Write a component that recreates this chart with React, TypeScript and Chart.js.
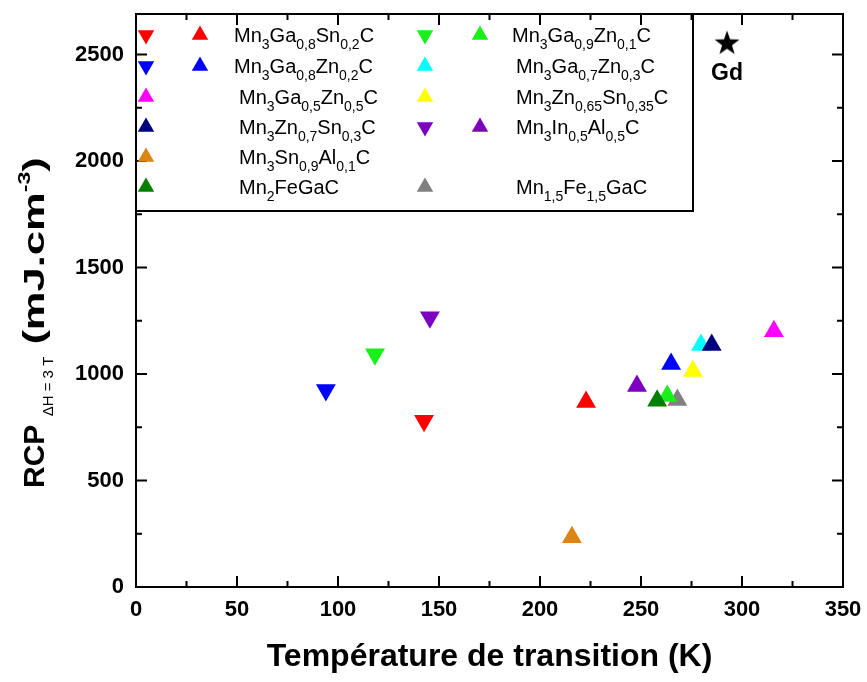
import React, { useEffect, useRef } from "react";
import { Chart, registerables } from "chart.js";

Chart.register(...registerables);

// ---------- axis ticks ----------
const xTickValues = [0, 50, 100, 150, 200, 250, 300, 350];
const yTickValues = [0, 500, 1000, 1500, 2000, 2500];
const xMinorStep = 25;
const yMinorStep = 250;
const xMin = 0;
const xMax = 350;
const yMin = 0;
const yMax = 2690;

// ---------- series labels ----------
const labelMn3Ga08Sn02C = "Mn_{3}Ga_{0,8}Sn_{0,2}C";
const labelMn3Ga08Zn02C = "Mn_{3}Ga_{0,8}Zn_{0,2}C";
const labelMn3Ga05Zn05C = "Mn_{3}Ga_{0,5}Zn_{0,5}C";
const labelMn3Zn07Sn03C = "Mn_{3}Zn_{0,7}Sn_{0,3}C";
const labelMn3Sn09Al01C = "Mn_{3}Sn_{0,9}Al_{0,1}C";
const labelMn2FeGaC = "Mn_{2}FeGaC";
const labelMn3Ga09Zn01C = "Mn_{3}Ga_{0,9}Zn_{0,1}C";
const labelMn3Ga07Zn03C = "Mn_{3}Ga_{0,7}Zn_{0,3}C";
const labelMn3Zn065Sn035C = "Mn_{3}Zn_{0,65}Sn_{0,35}C";
const labelMn3In05Al05C = "Mn_{3}In_{0,5}Al_{0,5}C";
const labelMn15Fe15GaC = "Mn_{1,5}Fe_{1,5}GaC";

// ---------- data (x = transition temperature K, y = RCP mJ.cm-3) ----------
const mn3Ga08Sn02C_down = [{ x: 142.6, y: 780 }];
const mn3Ga08Sn02C_up = [{ x: 222.8, y: 869 }];
const mn3Ga08Zn02C_down = [{ x: 94, y: 925 }];
const mn3Ga08Zn02C_up = [{ x: 264.9, y: 1047 }];
const mn3Ga05Zn05C_up = [{ x: 315.8, y: 1201 }];
const mn3Zn07Sn03C_up = [{ x: 285, y: 1136 }];
const mn3Sn09Al01C_up = [{ x: 215.8, y: 234 }];
const mn2FeGaC_up = [{ x: 258, y: 874 }];
const mn3Ga09Zn01C_down = [{ x: 118.3, y: 1093 }];
const mn3Ga09Zn01C_up = [{ x: 263, y: 897 }];
const mn3Ga07Zn03C_up = [{ x: 279.7, y: 1136 }];
const mn3Zn065Sn035C_up = [{ x: 275.7, y: 1014 }];
const mn3In05Al05C_down = [{ x: 145.5, y: 1266 }];
const mn3In05Al05C_up = [{ x: 248, y: 944 }];
const mn15Fe15GaC_up = [{ x: 268, y: 878 }];
const gdPoint = [{ x: 292.6, y: 2556 }];
const gdLabel = "Gd";

// ---------- titles ----------
const xTitle = "Température de transition (K)";
const yTitleMain = "RCP";
const yTitleSub = "\u0394H = 3 T";
const yTitleUnit = "(mJ.cm";
const yTitleSup = "-3";
const yTitleClose = ")";

// ---------- colours ----------
const RED = "#ff0000";
const BLUE = "#0000ff";
const MAGENTA = "#ff00ff";
const NAVY = "#00007f";
const ORANGE = "#dc8512";
const DKGREEN = "#007f00";
const LIME = "#19f019";
const CYAN = "#00ffff";
const YELLOW = "#ffff00";
const PURPLE = "#7b00c0";
const GRAY = "#808080";

// series definitions: label, colour, down data, up data, legend slot
const series = [
  { label: labelMn3Ga08Sn02C, color: RED, down: mn3Ga08Sn02C_down, up: mn3Ga08Sn02C_up, col: 0, row: 0 },
  { label: labelMn3Ga08Zn02C, color: BLUE, down: mn3Ga08Zn02C_down, up: mn3Ga08Zn02C_up, col: 0, row: 1 },
  { label: labelMn3Ga05Zn05C, color: MAGENTA, down: null, up: mn3Ga05Zn05C_up, col: 0, row: 2 },
  { label: labelMn3Zn07Sn03C, color: NAVY, down: null, up: mn3Zn07Sn03C_up, col: 0, row: 3 },
  { label: labelMn3Sn09Al01C, color: ORANGE, down: null, up: mn3Sn09Al01C_up, col: 0, row: 4 },
  { label: labelMn2FeGaC, color: DKGREEN, down: null, up: mn2FeGaC_up, col: 0, row: 5 },
  { label: labelMn3Ga09Zn01C, color: LIME, down: mn3Ga09Zn01C_down, up: mn3Ga09Zn01C_up, col: 1, row: 0 },
  { label: labelMn3Ga07Zn03C, color: CYAN, down: null, up: mn3Ga07Zn03C_up, col: 1, row: 1 },
  { label: labelMn3Zn065Sn035C, color: YELLOW, down: null, up: mn3Zn065Sn035C_up, col: 1, row: 2 },
  { label: labelMn3In05Al05C, color: PURPLE, down: mn3In05Al05C_down, up: mn3In05Al05C_up, col: 1, row: 3 },
  { label: labelMn15Fe15GaC, color: GRAY, down: null, up: mn15Fe15GaC_up, col: 1, row: 5 },
];

const FONT = '"Liberation Sans", Arial, Helvetica, sans-serif';

type Run = { text: string; font: string; dy: number; sx?: number };

function richRuns(s: string, size: number, subSize: number, subDy: number): Run[] {
  const runs: Run[] = [];
  const re = /_\{([^}]*)\}|([^_]+)/g;
  let m: RegExpExecArray | null;
  while ((m = re.exec(s))) {
    if (m[1] !== undefined) runs.push({ text: m[1], font: `${subSize}px ${FONT}`, dy: subDy });
    else runs.push({ text: m[2], font: `${size}px ${FONT}`, dy: 0 });
  }
  return runs;
}

function drawRuns(ctx: CanvasRenderingContext2D, runs: Run[], x: number, y: number) {
  let cx = x;
  ctx.textAlign = "left";
  ctx.textBaseline = "alphabetic";
  for (const r of runs) {
    ctx.font = r.font;
    const sx = r.sx ?? 1;
    ctx.save();
    ctx.translate(cx, y + r.dy);
    ctx.scale(sx, 1);
    ctx.fillText(r.text, 0, 0);
    ctx.restore();
    cx += ctx.measureText(r.text).width * sx;
  }
  return cx - x;
}

function triangle(ctx: CanvasRenderingContext2D, x: number, y: number, r: number, down: boolean, color: string) {
  ctx.save();
  ctx.translate(x, y);
  if (down) ctx.rotate(Math.PI);
  ctx.beginPath();
  for (let i = 0; i < 3; i++) {
    const a = (i * 2 * Math.PI) / 3;
    const px = Math.sin(a) * r;
    const py = -Math.cos(a) * r;
    if (i === 0) ctx.moveTo(px, py);
    else ctx.lineTo(px, py);
  }
  ctx.closePath();
  ctx.fillStyle = color;
  ctx.fill();
  ctx.restore();
}

function makeStar(size: number): HTMLCanvasElement {
  const c = document.createElement("canvas");
  c.width = size;
  c.height = size;
  const g = c.getContext("2d")!;
  const cx = size / 2;
  const cy = size / 2 + size * 0.04;
  const R = size / 2;
  const r = R * 0.4;
  g.beginPath();
  for (let i = 0; i < 10; i++) {
    const rad = i % 2 === 0 ? R : r;
    const a = (i * Math.PI) / 5;
    const px = cx + Math.sin(a) * rad;
    const py = cy - Math.cos(a) * rad;
    if (i === 0) g.moveTo(px, py);
    else g.lineTo(px, py);
  }
  g.closePath();
  g.fillStyle = "#000";
  g.fill();
  return c;
}

const framePlugin = {
  id: "frameAndDecor",
  afterDatasetsDraw(chart: any) {
    const ctx: CanvasRenderingContext2D = chart.ctx;
    const { left, right, top, bottom } = chart.chartArea;
    const xs = chart.scales.x;
    const ys = chart.scales.y;
    ctx.save();
    ctx.strokeStyle = "#000";
    ctx.lineWidth = 2;
    ctx.lineCap = "butt";
    // frame
    ctx.strokeRect(left, top, right - left, bottom - top);
    // x ticks (inward, top and bottom)
    for (let v = xMin; v <= xMax + 1e-6; v += xMinorStep) {
      const major = xTickValues.includes(v);
      const len = major ? 11 : 6;
      const px = xs.getPixelForValue(v);
      ctx.beginPath();
      ctx.moveTo(px, bottom);
      ctx.lineTo(px, bottom - len);
      ctx.moveTo(px, top);
      ctx.lineTo(px, top + len);
      ctx.stroke();
    }
    for (let v = yMin; v <= yMax + 1e-6; v += yMinorStep) {
      const major = yTickValues.includes(v);
      const len = major ? 11 : 6;
      const py = ys.getPixelForValue(v);
      ctx.beginPath();
      ctx.moveTo(left, py);
      ctx.lineTo(left + len, py);
      ctx.moveTo(right, py);
      ctx.lineTo(right - len, py);
      ctx.stroke();
    }

    // legend box
    const lgRight = 693;
    const lgBottom = 211;
    ctx.strokeRect(left, top, lgRight - left, lgBottom - top);

    const rowY = [35, 66, 97, 127, 157, 187];
    const downX = [146, 425];
    const upX = [200, 480];
    const textX = [[234, 234, 239, 239, 239, 239], [512, 516, 516, 516, 516, 516]];
    ctx.fillStyle = "#000";
    for (const s of series) {
      const y = rowY[s.row];
      if (s.down) {
        triangle(ctx, downX[s.col], y, 9.5, true, s.color);
        triangle(ctx, upX[s.col], y, 9.5, false, s.color);
      } else {
        triangle(ctx, downX[s.col], y, 9.5, false, s.color);
      }
      ctx.fillStyle = "#000";
      drawRuns(ctx, richRuns(s.label, 20, 14, 7), textX[s.col][s.row], y + 7);
    }

    // Gd label
    const gx = xs.getPixelForValue(gdPoint[0].x);
    const gy = ys.getPixelForValue(gdPoint[0].y);
    ctx.font = `bold 23px ${FONT}`;
    ctx.textAlign = "center";
    ctx.textBaseline = "alphabetic";
    ctx.fillText(gdLabel, gx, gy + 37);

    // x title
    ctx.font = `bold 32px ${FONT}`;
    ctx.textAlign = "center";
    ctx.fillText(xTitle, (left + right) / 2, 666);

    // y title
    ctx.save();
    ctx.translate(44, 488);
    ctx.rotate(-Math.PI / 2);
    const st = 1.45;
    const yRuns: Run[] = [
      { text: yTitleMain + " ", font: `bold 30px ${FONT}`, dy: 0 },
      { text: yTitleSub, font: `15px ${FONT}`, dy: 9 },
      { text: " " + yTitleUnit, font: `bold 30px ${FONT}`, dy: 0, sx: st },
      { text: yTitleSup, font: `bold 16px ${FONT}`, dy: -14, sx: st },
      { text: yTitleClose, font: `bold 30px ${FONT}`, dy: 0, sx: st },
    ];
    drawRuns(ctx, yRuns, 0, 0);
    ctx.restore();

    ctx.restore();
  },
};

export default function App() {
  const ref = useRef<HTMLCanvasElement | null>(null);
  useEffect(() => {
    if (!ref.current) return;
    const star = makeStar(26);
    const datasets: any[] = [];
    for (const s of series) {
      if (s.down) {
        datasets.push({
          label: s.label + " down",
          data: s.down,
          pointStyle: "triangle",
          rotation: 180,
          radius: 11.5,
          backgroundColor: s.color,
          borderColor: s.color,
          borderWidth: 0,
        });
      }
      datasets.push({
        label: s.label,
        data: s.up,
        pointStyle: "triangle",
        rotation: 0,
        radius: 11.5,
        backgroundColor: s.color,
        borderColor: s.color,
        borderWidth: 0,
      });
    }
    datasets.push({
      label: gdLabel,
      data: gdPoint,
      pointStyle: star,
      radius: 13,
      backgroundColor: "#000",
      borderColor: "#000",
    });

    const tickFont = { family: FONT, size: 22, weight: "bold" as const, lineHeight: 1 };
    const chart = new Chart(ref.current, {
      type: "scatter",
      data: { datasets },
      options: {
        animation: false,
        responsive: false,
        events: [],
        layout: { padding: { left: 0, top: 11, right: 24, bottom: 0 } },
        plugins: { legend: { display: false }, tooltip: { enabled: false } },
        scales: {
          x: {
            type: "linear",
            min: xMin,
            max: xMax,
            grid: { display: false, drawTicks: false, tickLength: 0 },
            border: { display: false },
            ticks: {
              font: tickFont,
              color: "#000",
              padding: 12,
              maxRotation: 0,
              callback: (v: any) => String(v),
            },
            afterBuildTicks: (scale: any) => {
              scale.ticks = xTickValues.map((v) => ({ value: v }));
            },
            afterFit: (scale: any) => {
              scale.height = 95;
              scale.paddingLeft = 0;
              scale.paddingRight = 0;
            },
          },
          y: {
            type: "linear",
            min: yMin,
            max: yMax,
            grid: { display: false, drawTicks: false, tickLength: 0 },
            border: { display: false },
            ticks: {
              font: tickFont,
              color: "#000",
              padding: 12,
              callback: (v: any) => String(v),
            },
            afterBuildTicks: (scale: any) => {
              scale.ticks = yTickValues.map((v) => ({ value: v }));
            },
            afterFit: (scale: any) => {
              scale.width = 136;
              scale.paddingTop = 0;
              scale.paddingBottom = 0;
            },
          },
        },
      },
      plugins: [framePlugin],
    });
    return () => chart.destroy();
  }, []);

  return (
    <div style={{ position: "absolute", left: 0, top: 0, width: 867, height: 682, background: "#fff" }}>
      <canvas ref={ref} width={867} height={682} style={{ display: "block" }} />
    </div>
  );
}
